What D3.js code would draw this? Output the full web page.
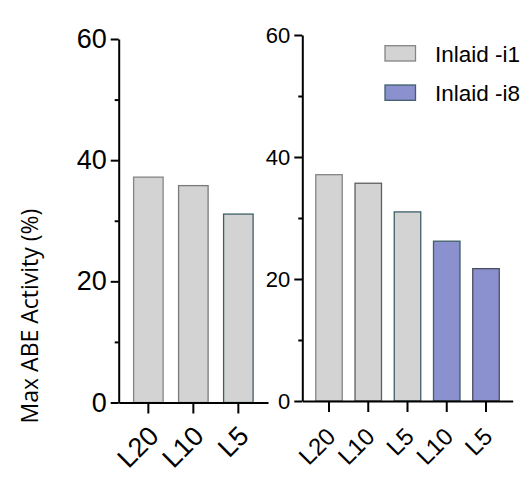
<!DOCTYPE html>
<html>
<head>
    <meta charset="utf-8">
    <title>Max ABE Activity</title>
    <script src="https://cdn.jsdelivr.net/npm/d3@7"></script>
    <style>
        body { margin: 0; background: #fff; }
        text { font-family: "Liberation Sans", Arial, sans-serif; fill: #000; }
    </style>
</head>
<body>
<script>
        // data
        var leftCategories = ["L20", "L10", "L5"];
        var leftValues = [37.2, 35.8, 31.1];

        var rightCategories = ["L20", "L10", "L5", "L10", "L5"];
        var rightSeries = ["Inlaid -i1", "Inlaid -i1", "Inlaid -i1", "Inlaid -i8", "Inlaid -i8"];
        var rightValues = [37.1, 35.7, 31.0, 26.2, 21.7];

        var legendLabels = ["Inlaid -i1", "Inlaid -i8"];
        var yTicks = [0, 20, 40, 60];
        var yMinorTicks = [10, 30, 50];

        // styling
        var fillColor = { "Inlaid -i1": "#d3d3d3", "Inlaid -i8": "#8b91cf" };
        var legendEdge = { "Inlaid -i1": "#858585", "Inlaid -i8": "#3f5f6a" };
        var leftEdges = ["#858585", "#7a7a7a", "#3f5f66"];
        var rightEdges = ["#858585", "#5f5f5f", "#3f5f66", "#3f5f66", "#4a4e5e"];

        var svg = d3.select("body").append("svg")
            .attr("width", 529)
            .attr("height", 478);

        function panel(opts) {
            var g = svg.append("g");
            var y = d3.scaleLinear().domain([0, 60]).range([opts.y0, opts.y1]);
            var x = d3.scaleBand()
                .domain(opts.cats.map(function (d, i) { return i; }))
                .range([opts.x0, opts.x1])
                .paddingInner(opts.pin)
                .paddingOuter(opts.pout);

            g.selectAll("rect.bar")
                .data(opts.values)
                .enter().append("rect")
                .attr("class", "bar")
                .attr("x", function (d, i) { return x(i); })
                .attr("width", x.bandwidth())
                .attr("y", function (d) { return y(d); })
                .attr("height", function (d) { return y(0) - y(d); })
                .attr("fill", function (d, i) { return fillColor[opts.series[i]]; })
                .attr("stroke", function (d, i) { return opts.edges[i]; })
                .attr("stroke-width", 1.3);

            // y axis, major + minor ticks
            var ya = g.append("g")
                .attr("transform", "translate(" + opts.x0 + ",0)")
                .call(d3.axisLeft(y).tickValues(yTicks).tickSize(8).tickSizeOuter(0).tickPadding(4));
            ya.selectAll("text").style("font-size", opts.fs + "px");
            g.append("g")
                .attr("transform", "translate(" + opts.x0 + ",0)")
                .call(d3.axisLeft(y).tickValues(yMinorTicks).tickSize(4).tickSizeOuter(0).tickFormat(""))
                .select(".domain").remove();

            // x axis
            var xa = g.append("g")
                .attr("transform", "translate(0," + y(0) + ")")
                .call(d3.axisBottom(x).tickSize(11).tickSizeOuter(0)
                    .tickFormat(function (i) { return opts.cats[i]; }));
            xa.selectAll("text")
                .style("font-size", opts.xfs + "px")
                .attr("text-anchor", "end")
                .attr("y", 0).attr("dy", 0)
                .attr("transform", "translate(" + opts.lx + "," + opts.ly + ") rotate(-45)");

            g.selectAll(".domain, .tick line")
                .attr("stroke", "#000")
                .attr("stroke-width", 2);
        }

        panel({
            cats: leftCategories, values: leftValues,
            series: leftCategories.map(function () { return "Inlaid -i1"; }),
            edges: leftEdges,
            x0: 118.7, x1: 268, y0: 402.5, y1: 39,
            pin: 0.344, pout: 0.331, fs: 27, xfs: 27, lx: 12, ly: 35
        });

        panel({
            cats: rightCategories, values: rightValues, series: rightSeries,
            edges: rightEdges,
            x0: 302.3, x1: 512.7, y0: 401, y1: 35,
            pin: 0.325, pout: 0.343, fs: 22, xfs: 24, lx: 8, ly: 37
        });

        // legend
        var leg = svg.append("g").selectAll("g")
            .data(legendLabels)
            .enter().append("g")
            .attr("transform", function (d, i) { return "translate(385," + (45.7 + i * 39.3) + ")"; });
        leg.append("rect")
            .attr("width", 30.5).attr("height", 15.3)
            .attr("fill", function (d) { return fillColor[d]; })
            .attr("stroke", function (d) { return legendEdge[d]; })
            .attr("stroke-width", 1.3);
        leg.append("text")
            .attr("x", 50).attr("y", 16)
            .style("font-size", "22.5px")
            .text(function (d) { return d; });

        // y axis title
        svg.append("text")
            .attr("transform", "translate(38,316) rotate(-90)")
            .attr("text-anchor", "middle")
            .style("font-family", "'Open Sans', sans-serif")
            .style("font-size", "23px")
            .text("Max ABE Activity (%)");
</script>
</body>
</html>
